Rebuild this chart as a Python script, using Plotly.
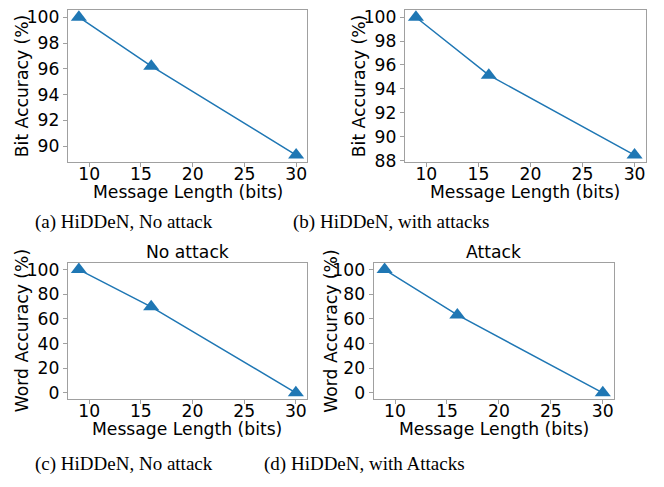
import plotly.graph_objects as go

W, H = 664, 487

msg_len = [9, 16, 30]
bit_acc_no_attack = [100, 96.2, 89.3]
bit_acc_attack = [100, 95.15, 88.45]
word_acc_no_attack = [100, 69.8, 0]
word_acc_attack = [100, 63.2, 0]

x_ticks = [10, 15, 20, 25, 30]
y_ticks_a = [90, 92, 94, 96, 98, 100]
y_ticks_b = [88, 90, 92, 94, 96, 98, 100]
y_ticks_cd = [0, 20, 40, 60, 80, 100]

captions = ["(a) HiDDeN, No attack", "(b) HiDDeN, with attacks",
            "(c) HiDDeN, No attack", "(d) HiDDeN, with Attacks"]
panel_titles = ["", "", "No attack", "Attack"]
y_titles = ["Bit Accuracy (%)", "Bit Accuracy (%)", "Word Accuracy (%)", "Word Accuracy (%)"]
x_title = "Message Length (bits)"

SANS = "DejaVu Sans"
FS = 17.2
BLUE = "#1f77b4"
FRAME = "#a0a0a0"

# pixel boxes (left, right, top, bottom)
boxes = [
    (68, 307, 6.5, 162),
    (405, 645.5, 6.5, 162),
    (68, 306.7, 266, 405),
    (373.7, 613.7, 266, 405),
]
series = [bit_acc_no_attack, bit_acc_attack, word_acc_no_attack, word_acc_attack]
yticks = [y_ticks_a, y_ticks_b, y_ticks_cd, y_ticks_cd]


def pad_range(vals, frac=0.05):
    lo, hi = min(vals), max(vals)
    p = (hi - lo) * frac
    return [lo - p, hi + p]


fig = go.Figure()
layout = dict(width=W, height=H, margin=dict(l=0, r=0, t=0, b=0),
              paper_bgcolor="white", plot_bgcolor="white", showlegend=False,
              font=dict(family=SANS, size=FS, color="black"))
annotations = []

for i, (box, ys) in enumerate(zip(boxes, series)):
    l, r, t, b = box
    n = "" if i == 0 else str(i + 1)
    fig.add_trace(go.Scatter(
        x=msg_len, y=ys, mode="lines+markers",
        line=dict(color=BLUE, width=1.5),
        marker=dict(symbol="triangle-up", size=14, color=BLUE),
        xaxis="x" + n, yaxis="y" + n, cliponaxis=False))
    common = dict(showgrid=False, zeroline=False, showline=True, linecolor=FRAME,
                  linewidth=1.2, mirror=True, ticks="outside", ticklen=4,
                  tickcolor=FRAME, tickwidth=1,
                  tickfont=dict(family=SANS, size=FS, color="black"))
    layout["xaxis" + n] = dict(common, domain=[l / W, r / W], anchor="y" + n,
                               range=pad_range(msg_len), tickvals=x_ticks,
                               ticklabelstandoff=-8)
    layout["yaxis" + n] = dict(common, domain=[1 - b / H, 1 - t / H], anchor="x" + n,
                               range=pad_range(ys), tickvals=yticks[i])
    cx = (l + r) / 2
    cy = (t + b) / 2
    # x title
    annotations.append(dict(text=x_title, x=cx / W, y=1 - (b + 31) / H,
                            xref="paper", yref="paper", showarrow=False,
                            xanchor="center", yanchor="middle",
                            font=dict(family=SANS, size=FS, color="black")))
    # y title
    ytx = [22, 359, 22, 331.5][i]
    annotations.append(dict(text=y_titles[i], x=ytx / W, y=1 - cy / H,
                            xref="paper", yref="paper", showarrow=False, textangle=-90,
                            xanchor="center", yanchor="middle",
                            font=dict(family=SANS, size=FS, color="black")))
    if panel_titles[i]:
        annotations.append(dict(text=panel_titles[i], x=cx / W, y=1 - 254.5 / H,
                                xref="paper", yref="paper", showarrow=False,
                                xanchor="center", yanchor="middle",
                                font=dict(family=SANS, size=FS, color="black")))

cap_pos = [(124, 223), (391, 223), (124, 472), (365, 472)]
for cap, (px, py) in zip(captions, cap_pos):
    annotations.append(dict(text=cap, x=px / W, y=1 - py / H, xref="paper", yref="paper",
                            showarrow=False, xanchor="center", yanchor="middle",
                            font=dict(family="Liberation Serif", size=19, color="black")))

layout["annotations"] = annotations
fig.update_layout(**layout)
fig.write_html("out.html", post_script="document.body.style.margin='0';",
               config={"displayModeBar": False})
